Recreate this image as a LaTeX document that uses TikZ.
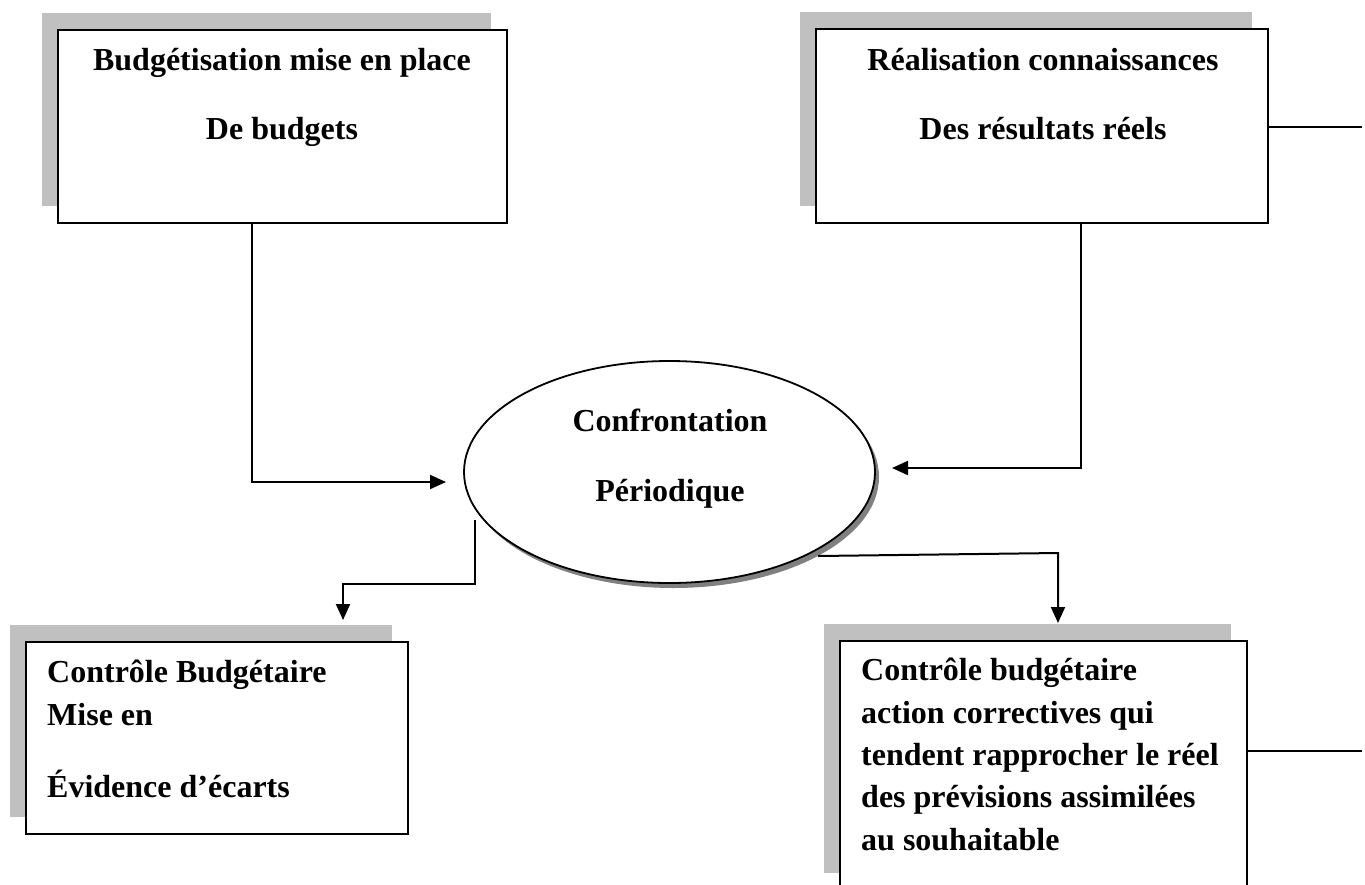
\documentclass[tikz,border=0pt]{standalone}
\usepackage{fontspec}
\setmainfont{Liberation Serif}
\usetikzlibrary{arrows.meta,shadows,shapes.geometric}
\definecolor{boxshade}{HTML}{C0C0C0}
\definecolor{ovalshade}{HTML}{808080}
\begin{document}
\begin{tikzpicture}[x=1pt,y=-1pt,
  stage/.style={rectangle, draw=black, line width=1.8pt, fill=white, inner sep=0pt,
    drop shadow={shadow xshift=-16pt, shadow yshift=17pt, fill=boxshade, opacity=1}},
  oval/.style={ellipse, draw=black, line width=1.8pt, fill=white, inner sep=0pt,
    minimum width=411pt, minimum height=222pt,
    drop shadow={shadow xshift=4pt, shadow yshift=-5pt, fill=ovalshade, opacity=1}},
  lbl/.style={inner sep=0pt, font=\fontsize{32}{38}\selectfont\bfseries},
  flow/.style={line width=2pt, -{Triangle[length=16pt,width=14pt]}},
  link/.style={line width=1.6pt}]
\useasboundingbox (0,0) rectangle (1365,884);

% framed stages with their shadows
\node[stage, minimum width=449pt, minimum height=193pt] (plan) at (282.5,126.5) {};
\node[stage, minimum width=452pt, minimum height=194pt] (real) at (1042,126) {};
\node[stage, minimum width=382pt, minimum height=192pt] (ecart) at (217,738) {};
\node[stage, minimum width=407pt, minimum height=249pt] (correct) at (1043.5,765.5) {};
\node[oval] (confr) at (669.5,472) {};

% texts
\node[lbl, anchor=base] (plan1) at (282,70) {Budgétisation mise en place};
\node[lbl, anchor=base] (plan2) at (282,139) {De budgets};
\node[lbl, anchor=base] (real1) at (1043,70) {Réalisation connaissances};
\node[lbl, anchor=base] (real2) at (1043,139) {Des résultats réels};
\node[lbl, anchor=base] (conf1) at (670,431) {Confrontation};
\node[lbl, anchor=base] (conf2) at (670,501) {Périodique};
\node[lbl, anchor=base west] (ec1) at (47,682) {Contrôle Budgétaire};
\node[lbl, anchor=base west] (ec2) at (47,725) {Mise en};
\node[lbl, anchor=base west] (ec3) at (47,797) {Évidence d’écarts};
\node[lbl, anchor=base west] (co1) at (861,680) {Contrôle budgétaire};
\node[lbl, anchor=base west] (co2) at (861,723) {action correctives qui};
\node[lbl, anchor=base west] (co3) at (861,765) {tendent rapprocher le réel};
\node[lbl, anchor=base west] (co4) at (861,807) {des prévisions assimilées};
\node[lbl, anchor=base west] (co5) at (861,850) {au souhaitable};

% connector end points
\coordinate (inL) at (446,482);
\coordinate (inR) at (892,468);
\coordinate (outL) at (475,520);
\coordinate (downL) at (343,620);
\coordinate (outR) at (818,556);
\coordinate (downR) at (1058,623);
\coordinate (stubT) at (1362,127);
\coordinate (stubB) at (1362,751);

% connectors
\draw[flow] ([xshift=-30.5pt]plan.south) |- (inL);
\draw[flow] ([xshift=39pt]real.south) |- (inR);
\draw[flow] (outL) -- ++(0,64) -| (downL);
\draw[flow] (outR) -- (1058,553) -- (downR);
\draw[link] (real.east |- stubT) -- (stubT);
\draw[link] (correct.east |- stubB) -- (stubB);
\end{tikzpicture}
\end{document}
